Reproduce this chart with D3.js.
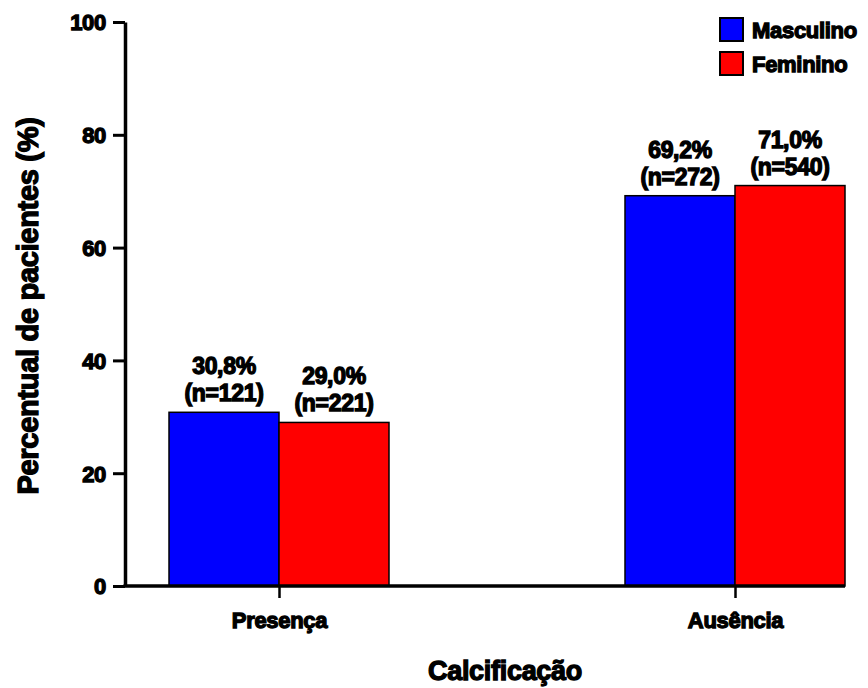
<!DOCTYPE html>
<html>
<head>
<meta charset="utf-8">
<script src="https://cdn.jsdelivr.net/npm/d3@7"></script>
<style>
  html, body { margin: 0; padding: 0; background: #fff; }
  svg text { font-family: "Liberation Sans", Arial, sans-serif; font-weight: bold; fill: #000; stroke: #000; stroke-width: 1.3px; letter-spacing: -0.3px; }
</style>
</head>
<body>
<svg id="chart" width="868" height="688"></svg>
<script>
const categories = ["Presença", "Ausência"];
const seriesNames = ["Masculino", "Feminino"];
const masculino = [30.8, 69.2];
const feminino = [29.0, 71.0];
const nMasculino = [121, 272];
const nFeminino = [221, 540];
const seriesColors = ["#0000FF", "#FF0000"];
const yTicks = [0, 20, 40, 60, 80, 100];

const svg = d3.select("#chart");
const mLeft = 125, mRight = 845, mTop = 22, mBottom = 586;

const y = d3.scaleLinear().domain([0, 100]).range([mBottom, mTop]);
const x0 = d3.scalePoint().domain(categories).range([279, 735]);
const x1 = d3.scaleBand().domain(seriesNames).range([-110, 110]);

const rows = categories.map((c, i) => ({
  cat: c,
  vals: [
    { s: seriesNames[0], v: masculino[i], n: nMasculino[i], color: seriesColors[0] },
    { s: seriesNames[1], v: feminino[i], n: nFeminino[i], color: seriesColors[1] }
  ]
}));

// bars
const g = svg.append("g");
const groups = g.selectAll("g.grp").data(rows).join("g")
  .attr("transform", d => `translate(${x0(d.cat)},0)`);

groups.selectAll("rect").data(d => d.vals).join("rect")
  .attr("x", d => x1(d.s))
  .attr("y", d => y(d.v))
  .attr("width", x1.bandwidth())
  .attr("height", d => y(0) - y(d.v))
  .attr("fill", d => d.color)
  .attr("stroke", "#000")
  .attr("stroke-width", 1.5);

// value labels
const lbl = groups.selectAll("text.val").data(d => d.vals).join("text")
  .attr("class", "val")
  .attr("text-anchor", "middle")
  .style("font-size", "23px")
  .attr("x", d => x1(d.s) + x1.bandwidth() / 2)
  .attr("y", d => y(d.v) - 38);
lbl.append("tspan").text(d => d3.format(".1f")(d.v).replace(".", ",") + "%");
lbl.append("tspan")
  .attr("x", d => x1(d.s) + x1.bandwidth() / 2)
  .attr("dy", 27)
  .text(d => `(n=${d.n})`);

// y axis
const yAxis = svg.append("g")
  .attr("transform", `translate(${mLeft},0)`)
  .call(d3.axisLeft(y).tickValues(yTicks).tickSize(12).tickPadding(7).tickSizeOuter(0));
yAxis.select(".domain").attr("stroke", "#000").attr("stroke-width", 3.5);
yAxis.selectAll(".tick line").attr("stroke", "#000").attr("stroke-width", 3);
yAxis.selectAll(".tick text").style("font-size", "22px").attr("dy", "0.36em");
yAxis.attr("font-family", null).attr("font-size", null);

// x axis
const xAxis = svg.append("g")
  .attr("transform", `translate(0,${mBottom})`)
  .call(d3.axisBottom(x0).tickSize(12).tickPadding(14).tickSizeOuter(0));
xAxis.select(".domain").remove();
xAxis.append("line")
  .attr("x1", mLeft - 1.5).attr("x2", mRight)
  .attr("y1", 0).attr("y2", 0)
  .attr("stroke", "#000").attr("stroke-width", 3.5);
xAxis.selectAll(".tick line").attr("stroke", "#000").attr("stroke-width", 2.5);
xAxis.selectAll(".tick text").style("font-size", "22px").attr("dy", "0.71em");
xAxis.attr("font-family", null).attr("font-size", null);

// axis titles
svg.append("text")
  .attr("transform", `translate(38,${(mTop + mBottom) / 2 + 2}) rotate(-90)`)
  .attr("text-anchor", "middle")
  .style("font-size", "29px")
  .text("Percentual de pacientes (%)");

svg.append("text")
  .attr("x", 505).attr("y", 680)
  .attr("text-anchor", "middle")
  .style("font-size", "27px")
  .text("Calcificação");

// legend
const legend = svg.append("g").attr("transform", "translate(720,18)");
const li = legend.selectAll("g").data(seriesNames).join("g")
  .attr("transform", (d, i) => `translate(0,${i * 34})`);
li.append("rect")
  .attr("width", 23).attr("height", 23)
  .attr("fill", (d, i) => seriesColors[i])
  .attr("stroke", "#000").attr("stroke-width", 2);
li.append("text")
  .attr("x", 32).attr("y", 20)
  .style("font-size", "22px")
  .text(d => d);
</script>
</body>
</html>
